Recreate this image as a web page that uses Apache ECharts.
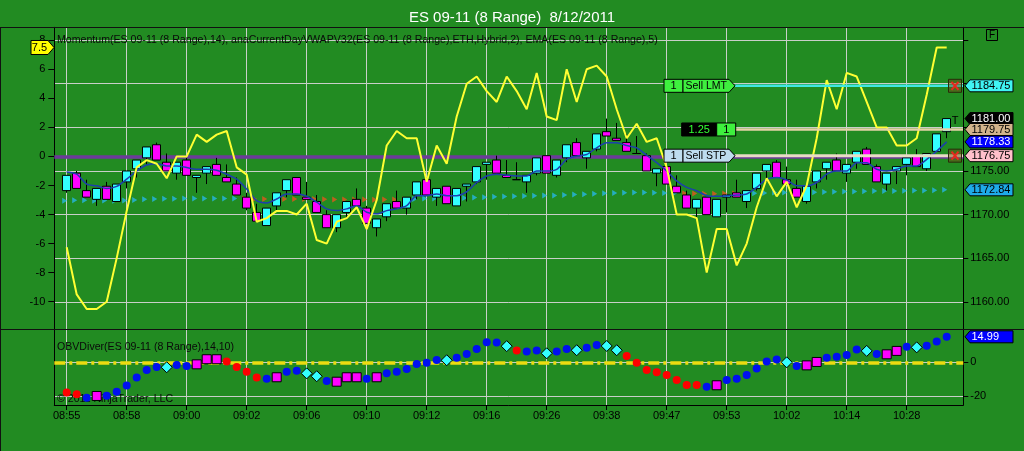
<!DOCTYPE html>
<html><head><meta charset="utf-8">
<script src="https://cdn.jsdelivr.net/npm/echarts@6/dist/echarts.min.js"></script>
<style>html,body{margin:0;padding:0;background:#228b22;overflow:hidden}#c{width:1024px;height:451px}</style>
</head><body><div id="c"></div>
<script>
const FONT = '"Liberation Sans", Arial, sans-serif';
const chartTitle = 'ES 09-11 (8 Range)  8/12/2011';
const priceLegend = 'Momentum(ES 09-11 (8 Range),14), anaCurrentDayVWAPV32(ES 09-11 (8 Range),ETH,Hybrid,2), EMA(ES 09-11 (8 Range),5)';
const obvLegend = 'OBVDiver(ES 09-11 (8 Range),14,10)';
const copyright = '\u00a9 2011 NinjaTrader, LLC';

const timeLabels = ['08:55','08:58','09:00','09:02','09:06','09:10','09:12','09:16','09:26','09:38','09:47','09:53','10:02','10:14','10:28'];
const labelStep = 6;
const momentumTicks = [-10,-8,-6,-4,-2,0,2,4,6,8];
const priceTicks = [1160,1165,1170,1175,1180,1185,1190];
const hiddenPriceLabels = [1180,1185,1190];
const obvTicks = [-20,0];

const opens = [1172.75,1174.75,1172.75,1171.75,1173.25,1171.5,1173.75,1175.25,1176.5,1178.0,
1176.0,1174.75,1176.25,1174.25,1174.75,1175.75,1174.25,1173.5,1172.0,1170.25,
1168.75,1171.0,1172.75,1174.25,1172.0,1171.5,1170.0,1168.5,1170.25,1171.75,
1170.75,1168.5,1169.75,1171.5,1170.75,1172.25,1174.0,1172.0,1173.25,1171.0,
1173.25,1173.75,1175.75,1176.25,1174.5,1174.0,1173.75,1174.75,1176.75,1174.5,
1176.5,1178.25,1176.5,1177.5,1179.5,1178.75,1178.25,1177.0,1176.75,1174.75,
1175.5,1173.25,1172.25,1170.75,1172.0,1169.75,1172.0,1172.5,1171.5,1173.0,
1175.0,1176.0,1174.0,1173.0,1171.5,1173.75,1175.25,1176.25,1174.75,1176.0,
1177.5,1175.5,1173.5,1175.0,1175.75,1176.75,1175.25,1177.25,1179.5];
const closes = [1174.5,1173.0,1172.0,1173.0,1171.75,1173.5,1175.0,1176.25,1177.75,1176.25,
1175.0,1176.0,1174.5,1174.5,1175.5,1174.5,1173.75,1172.25,1170.75,1169.25,
1170.75,1172.5,1174.0,1172.25,1171.75,1170.25,1168.5,1170.0,1171.5,1171.0,
1169.0,1169.5,1171.25,1170.75,1172.0,1173.75,1172.25,1173.0,1171.25,1173.0,
1173.5,1175.5,1176.0,1174.75,1174.25,1174.0,1174.5,1176.5,1174.75,1176.25,
1178.0,1176.75,1177.25,1179.25,1179.0,1178.5,1177.25,1177.0,1175.0,1175.25,
1173.5,1172.5,1170.75,1171.75,1170.0,1171.75,1172.25,1172.0,1172.75,1174.75,
1175.75,1174.25,1173.5,1172.0,1173.25,1175.0,1176.0,1175.0,1175.75,1177.25,
1175.75,1173.75,1174.75,1175.5,1176.5,1175.5,1177.0,1179.25,1181.0];
const lows = [1172.5,1173.0,1172.0,1171.0,1171.75,1171.5,1173.0,1174.25,1175.75,1176.25,
1175.0,1174.0,1174.5,1172.5,1173.5,1174.5,1173.75,1172.25,1170.5,1169.25,
1168.75,1170.5,1172.0,1172.25,1171.75,1170.25,1168.5,1168.0,1169.5,1171.0,
1169.0,1167.5,1169.25,1170.75,1170.0,1171.75,1172.25,1171.0,1171.25,1171.0,
1171.5,1173.5,1174.0,1174.75,1174.25,1174.0,1172.5,1174.5,1174.75,1174.25,
1176.0,1176.75,1175.25,1177.25,1179.0,1178.5,1177.25,1177.0,1175.0,1173.25,
1173.5,1172.5,1170.75,1169.75,1170.0,1169.75,1170.25,1172.0,1170.75,1172.75,
1173.75,1174.25,1173.5,1172.0,1171.25,1173.0,1174.0,1175.0,1173.75,1175.25,
1175.75,1173.75,1172.75,1173.5,1174.5,1175.5,1175.0,1177.25,1178.75];
const highs = [1174.5,1175.0,1174.0,1173.0,1173.75,1173.5,1175.0,1176.25,1177.75,1178.25,
1177.0,1176.0,1176.5,1174.5,1175.5,1176.5,1175.75,1174.25,1172.5,1171.25,
1170.75,1172.5,1174.0,1174.25,1173.75,1172.25,1170.5,1170.0,1171.5,1173.0,
1171.0,1169.5,1171.25,1172.75,1172.0,1173.75,1174.25,1173.0,1173.25,1173.0,
1173.5,1175.5,1176.0,1176.75,1176.25,1176.0,1174.5,1176.5,1176.75,1176.25,
1178.0,1178.75,1177.25,1179.25,1181.0,1180.5,1179.25,1179.0,1177.0,1175.25,
1175.5,1174.5,1172.75,1171.75,1172.0,1171.75,1172.25,1174.0,1172.75,1174.75,
1175.75,1176.25,1175.5,1174.0,1173.25,1175.0,1176.0,1177.0,1175.75,1177.25,
1177.75,1175.75,1174.75,1175.5,1176.5,1177.5,1177.0,1179.25,1181.0];
const ema = [1174.89,1174.63,1173.49,1173.30,1173.0,1173.23,1174.06,1175.0,1175.68,1175.84,
1175.57,1175.57,1175.39,1175.19,1175.19,1175.08,1174.63,1174.06,1172.93,1171.6,
1171.34,1171.79,1172.36,1172.36,1172.1,1171.42,1170.66,1170.46,1170.66,1171.03,
1170.28,1170.09,1170.46,1170.66,1171.03,1172.17,1172.17,1172.36,1172.17,1172.17,
1172.62,1173.68,1174.43,1174.63,1174.51,1174.43,1174.43,1175.0,1175.0,1175.19,
1176.33,1176.7,1176.89,1177.65,1178.22,1178.22,1177.91,1177.65,1176.8,1175.95,
1175.0,1173.87,1173.12,1172.73,1172.17,1172.1,1172.17,1172.24,1172.36,1173.12,
1174.06,1174.25,1173.98,1173.3,1173.3,1173.68,1174.63,1175.0,1175.0,1175.95,
1175.95,1175.19,1175.0,1175.19,1175.57,1175.57,1176.33,1177.27,1178.33];
const vwap = [1171.6,1171.65,1171.65,1171.6,1171.62,1171.6,1171.62,1171.68,1171.75,1171.8,
1171.82,1171.82,1171.84,1171.84,1171.84,1171.85,1171.85,1171.84,1171.82,1171.8,
1171.78,1171.78,1171.79,1171.8,1171.8,1171.79,1171.76,1171.74,1171.74,1171.74,
1171.72,1171.71,1171.72,1171.73,1171.75,1171.8,1171.84,1171.86,1171.86,1171.88,
1171.9,1171.95,1172.0,1172.05,1172.08,1172.1,1172.12,1172.15,1172.18,1172.2,
1172.25,1172.3,1172.33,1172.38,1172.44,1172.48,1172.5,1172.52,1172.52,1172.5,
1172.48,1172.46,1172.44,1172.42,1172.4,1172.4,1172.42,1172.42,1172.43,1172.45,
1172.48,1172.52,1172.54,1172.55,1172.55,1172.56,1172.6,1172.62,1172.64,1172.64,
1172.68,1172.7,1172.71,1172.72,1172.73,1172.75,1172.76,1172.79,1172.84];
const vwapDown = [0,0,0,0,0,0,0,0,0,0, 0,0,0,0,0,0,0,0,1,1, 1,1,1,1,1,1,1,1,1,1,
1,1,1,1,1,0,0,0,0,0, 0,0,0,0,0,0,0,0,0,0, 0,0,0,0,0,0,0,0,0,0,
0,0,1,1,1,1,1,1,1,0, 0,0,0,0,0,0,0,0,0,0, 0,0,0,0,0,0,0,0,0];
const momentum = [-6.25,-9.5,-10.5,-10.5,-10.0,-7.0,-3.75,-0.75,-0.25,-0.5,
-1.5,0,0,1.5,1.0,1.5,1.75,-0.75,-1.25,-4.5,
-4.25,-3.75,-3.75,-4.0,-3.25,-5.75,-6.0,-4.5,-4.25,-3.5,
-5.0,-3.0,0.75,1.75,1.25,1.25,-1.75,0.75,-0.5,2.75,
5.0,5.5,4.5,3.75,5.5,4.5,3.25,5.75,2.75,2.5,
6.0,3.75,6.0,6.25,5.5,3.25,1.25,2.25,1.0,1.25,
-0.75,-4.0,-4.0,-4.25,-8.0,-5.0,-5.0,-7.5,-6.0,-3.5,
-1.5,-2.75,-1.75,-3.5,-2.0,1.25,5.25,3.25,5.75,5.5,
3.75,2.0,2.0,0.75,0.75,1.25,4.25,7.5,7.5];
const obv = [-17.8,-18.8,-20.8,-19.8,-19.6,-17.3,-13.7,-9.0,-4.5,-2.7,
-2.9,-1.6,-2.2,-1.2,1.8,1.8,0.4,-2.7,-5.5,-9.0,
-9.6,-8.8,-5.5,-4.9,-6.5,-8.2,-11.0,-11.4,-8.8,-8.8,
-9.6,-8.8,-6.5,-5.5,-3.9,-1.0,-0.2,1.4,1.2,2.7,
4.9,7.8,11.8,11.6,9.5,6.9,6.3,6.9,5.3,6.3,
7.8,7.1,8.6,10.2,9.6,7.1,3.7,-0.2,-4.5,-5.9,
-7.5,-10.4,-13.3,-13.3,-14.3,-13.5,-10.4,-9.6,-7.5,-3.7,
0.4,1.6,0,-2.2,-1.8,0.2,2.7,3.3,4.3,7.5,
6.7,4.9,4.7,6.7,9.2,8.8,9.8,12.2,14.99];
// R = falling, B = rising, M = square marker, C = diamond marker
const obvMarks = ('RRBMBBBBBB'+'CBBMMMRRRR'+'BMBBCCBMMM'+'BMBBBBBBCB'+'BBBBCRBBCB'+
'BCBBCCRRRR'+'RRRRBMBBBB'+'BBCBMMBBBB'+'CBMMBCBBB').split('');

const sellLmtPrice = 1184.75;
const positionPrice = 1179.75;
const positionText = '1.25';
const sellStpPrice = 1176.75;
const orderQty = '1';

// ---- layout ----
const GL = 54.3, GW = 909, T1 = 27.3, H1 = 302, T2 = 329.3, H2 = 75.7;
const xMin = -1.24, xMax = 89.66;
const momMin = -11.9, momMax = 8.89;
const priceMin = 1156.87, priceMax = 1191.45;
const obvMin = -25.1, obvMax = 19.4;
const xTickVals = timeLabels.map((_, k) => k * labelStep);

const gridLine = {show: true, lineStyle: {color: '#c9cfc9', width: 1}};
const txt = {color: '#000', fontFamily: FONT, fontSize: 11};
const blackLine = {show: true, onZero: false, lineStyle: {color: '#000', width: 1}};

const chart = echarts.init(document.getElementById('c'), null, {renderer: 'canvas'});

const obvStyle = {
  B: {symbol: 'circle', size: 8, color: '#0010f0', border: '#0010f0', bw: 0},
  R: {symbol: 'circle', size: 8, color: '#ff0000', border: '#ff0000', bw: 0},
  M: {symbol: 'rect', size: 9, color: '#ff00ff', border: '#000', bw: 1},
  C: {symbol: 'diamond', size: 11, color: '#33ffff', border: '#000', bw: 1}
};

const option = {
  backgroundColor: '#228b22',
  animation: false,
  title: {text: chartTitle, left: 'center', top: 5,
    textStyle: {color: '#fff', fontSize: 15, fontWeight: 'normal', fontFamily: FONT}},
  grid: [
    {left: GL, top: T1, width: GW, height: H1, containLabel: false, outerBoundsMode: 'none'},
    {left: GL, top: T2, width: GW, height: H2, containLabel: false, outerBoundsMode: 'none'}
  ],
  xAxis: [
    {gridIndex: 0, type: 'value', min: xMin, max: xMax,
      axisLine: {show: false, onZero: false},
      axisTick: {show: false, customValues: xTickVals},
      axisLabel: {show: false, customValues: xTickVals},
      splitLine: gridLine},
    {gridIndex: 1, type: 'value', min: xMin, max: xMax, position: 'bottom',
      axisLine: blackLine,
      axisTick: {show: true, length: 5, customValues: xTickVals, lineStyle: {color: '#000'}},
      axisLabel: Object.assign({customValues: xTickVals, margin: 5,
        formatter: v => timeLabels[Math.round(v / labelStep)] || ''}, txt),
      splitLine: gridLine}
  ],
  yAxis: [
    {gridIndex: 0, type: 'value', position: 'left', min: momMin, max: momMax,
      axisLine: blackLine,
      axisTick: {show: true, length: 6, customValues: momentumTicks, lineStyle: {color: '#000'}},
      axisLabel: Object.assign({customValues: momentumTicks, margin: 9}, txt),
      splitLine: {show: false}},
    {gridIndex: 0, type: 'value', position: 'right', min: priceMin, max: priceMax,
      axisLine: blackLine,
      axisTick: {show: true, length: 5, customValues: priceTicks, lineStyle: {color: '#000'}},
      axisLabel: Object.assign({customValues: priceTicks, margin: 7,
        formatter: v => hiddenPriceLabels.indexOf(v) >= 0 ? '' : v.toFixed(2)}, txt),
      splitLine: gridLine},
    {gridIndex: 1, type: 'value', position: 'right', min: obvMin, max: obvMax,
      axisLine: blackLine,
      axisTick: {show: true, length: 5, customValues: obvTicks, lineStyle: {color: '#000'}},
      axisLabel: Object.assign({customValues: obvTicks, margin: 7}, txt),
      splitLine: gridLine},
    {gridIndex: 1, type: 'value', position: 'left', min: obvMin, max: obvMax,
      axisLine: blackLine, axisTick: {show: false}, axisLabel: {show: false}, splitLine: {show: false}}
  ],
  series: [
    {type: 'scatter', name: 'VWAP', xAxisIndex: 0, yAxisIndex: 1, z: 2,
      symbol: 'triangle', symbolRotate: -90, symbolSize: [6, 5], symbolOffset: [-2, 0],
      data: vwap.map((v, i) => ({value: [i, v],
        itemStyle: {color: vwapDown[i] ? '#e2561e' : '#27b7e6'}}))},
    {type: 'candlestick', name: 'Price', xAxisIndex: 0, yAxisIndex: 1, z: 3,
      barWidth: 8,
      encode: {x: 0, y: [1, 2, 3, 4]},
      data: opens.map((o, i) => [i, o, closes[i], lows[i], highs[i]]),
      itemStyle: {color: '#33ffff', color0: '#ff00ff', borderColor: '#000', borderColor0: '#000',
        borderColorDoji: '#000', borderWidth: 1}},
    {type: 'line', name: 'EMA', xAxisIndex: 0, yAxisIndex: 1, z: 4,
      symbol: 'none', smooth: 0.25,
      lineStyle: {color: '#1c3fae', width: 1.5},
      data: ema.map((v, i) => [i, v])},
    {type: 'line', name: 'Momentum', xAxisIndex: 0, yAxisIndex: 0, z: 5,
      symbol: 'none',
      lineStyle: {color: '#ffff33', width: 2},
      data: momentum.map((v, i) => [i, v]),
      markLine: {silent: true, symbol: 'none', z: 1, label: {show: false},
        lineStyle: {color: '#6c3b9a', width: 3.5, type: 'solid', opacity: 1},
        emphasis: {disabled: true},
        data: [{yAxis: 0}]}},
    {type: 'scatter', name: 'OBV', xAxisIndex: 1, yAxisIndex: 2, z: 3,
      data: obv.map((v, i) => {
        const s = obvStyle[obvMarks[i]];
        return {value: [i, v], symbol: s.symbol, symbolSize: s.size,
          itemStyle: {color: s.color, borderColor: s.border, borderWidth: s.bw, opacity: 1}};
      }),
      markLine: {silent: true, symbol: 'none', z: 1, label: {show: false},
        lineStyle: {color: '#ecdc10', width: 3.5, type: [11, 4, 3, 4], opacity: 1},
        emphasis: {disabled: true},
        data: [{yAxis: 0}]}}
  ]
};
chart.setOption(option);

// ---- overlay decorations positioned through the axes ----
const yP = v => chart.convertToPixel({yAxisIndex: 1}, v);
const yM = v => chart.convertToPixel({yAxisIndex: 0}, v);
const yO = v => chart.convertToPixel({yAxisIndex: 2}, v);

const G = [];
const gl = (x1, y1, x2, y2, stroke, w, z) => G.push({type: 'line', silent: true, z: z || 50,
  shape: {x1, y1, x2, y2}, style: {stroke, lineWidth: w}});
const gt = (x, y, t, fill, size, align, z) => G.push({type: 'text', silent: true, z: z || 60, x, y,
  style: {text: t, fill: fill, font: (size || 11) + 'px ' + FONT, align: align || 'left',
    verticalAlign: 'middle', textAlign: align || 'left', textVerticalAlign: 'middle'}});
const gr = (x, y, w, h, fill, stroke, z) => G.push({type: 'rect', silent: true, z: z || 55,
  shape: {x, y, width: w, height: h}, style: {fill, stroke, lineWidth: 1}});
const gp = (pts, fill, stroke, z) => G.push({type: 'polygon', silent: true, z: z || 55,
  shape: {points: pts}, style: {fill, stroke, lineWidth: 1}});

// frame lines
gl(0, 27.5, 1024, 27.5, '#111', 1, 40);
gl(0, 329.5, 1024, 329.5, '#111', 1, 40);
gl(0.5, 27, 0.5, 451, '#111', 1, 40);

// legends
gt(57, 40.5, priceLegend, '#0a0a0a', 10.6, 'left', 1);
gt(57, 347, obvLegend, '#0a0a0a', 10.6, 'left', 1);
gt(57, 399.5, copyright, '#0a0a0a', 10.6, 'left', 1);

// order lines
const yL = yP(sellLmtPrice), yPos = yP(positionPrice), yS = yP(sellStpPrice);
gl(735, yL, 963, yL, '#3ee8e2', 2.5, 45);
gl(735, yPos, 963, yPos, '#e6d3a8', 2.5, 45);
gl(735, yS, 963, yS, '#e8dcc4', 3, 45);

function orderLabel(yc, text, fill) {
  gr(664, yc - 6.5, 19, 13, fill, '#000');
  gp([[683, yc - 6.5], [729, yc - 6.5], [735, yc], [729, yc + 6.5], [683, yc + 6.5]], fill, '#000');
  gt(673.5, yc + 0.5, orderQty, '#000', 11, 'center');
  gt(685.5, yc + 0.5, text, '#000', 10.5, 'left');
}
orderLabel(yL, 'Sell LMT', '#3ef03e');
orderLabel(yS, 'Sell STP', '#bedcef');
gr(681.7, yPos - 6.5, 35, 13, '#000', '#000');
gt(699.2, yPos + 0.5, positionText, '#33ff33', 11, 'center');
gr(716.7, yPos - 6.5, 19, 13, '#3ef03e', '#000');
gt(726.2, yPos + 0.5, orderQty, '#000', 11, 'center');

function xBox(yc) {
  gr(948.5, yc - 6.5, 13, 13, 'rgba(120,70,20,0.45)', '#2a2a0a');
  gl(951.5, yc - 4, 958.5, yc + 4, '#e8281e', 2, 58);
  gl(958.5, yc - 4, 951.5, yc + 4, '#e8281e', 2, 58);
}
xBox(yL); xBox(yS);

// right-side value tags
function rTag(yc, label, bg, fg) {
  gp([[965, yc], [970, yc - 6], [1013, yc - 6], [1013, yc + 6], [970, yc + 6]], bg, '#000', 70);
  gt(971.5, yc + 0.5, label, fg, 11, 'left', 71);
}
const last = closes.length - 1;
rTag(yL, sellLmtPrice.toFixed(2), '#40f4f4', '#000');
rTag(yP(closes[last]), closes[last].toFixed(2), '#000', '#fff');
rTag(yPos, positionPrice.toFixed(2), '#d2b48c', '#000');
rTag(yP(ema[last]), ema[last].toFixed(2), '#0000ff', '#fff');
rTag(yS, sellStpPrice.toFixed(2), '#ffc0cb', '#000');
rTag(yP(vwap[last]), vwap[last].toFixed(2), '#1eaae8', '#000');
rTag(yO(obv[last]), obv[last].toFixed(2), '#0000ff', '#fff');

// left momentum tag
const ym = yM(momentum[last]);
gp([[31, ym - 7], [48, ym - 7], [54, ym], [48, ym + 7], [31, ym + 7]], '#ffff00', '#000', 70);
gt(39.5, ym + 0.5, String(momentum[last]), '#000', 11, 'center', 71);

// misc markers
gt(955, yP(closes[last]) + 2, 'T', '#000', 11, 'center', 60);
gr(986.5, 29.5, 11, 11, 'none', '#000', 60);
gt(992, 35.5, 'F', '#000', 10, 'center', 61);

chart.setOption({graphic: {elements: G}});
</script></body></html>
